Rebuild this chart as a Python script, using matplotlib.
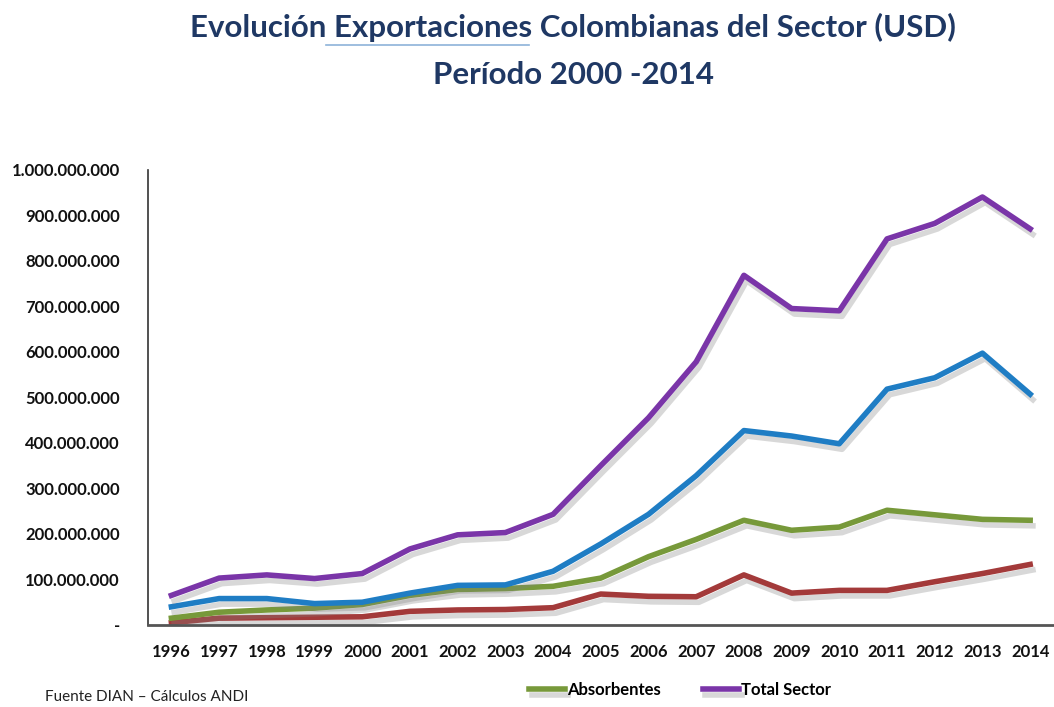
import numpy as np
import matplotlib.pyplot as plt
import matplotlib.patheffects as pe
from matplotlib.ticker import FuncFormatter

plt.rcParams['font.family'] = ['Lato', 'DejaVu Sans']

anios = list(range(1996, 2015))

# valores en USD
total_sector = [65e6, 103e6, 110e6, 102e6, 113e6, 167e6, 198e6, 203e6, 243e6, 350e6,
                455e6, 578e6, 768e6, 695e6, 690e6, 848e6, 882e6, 940e6, 870e6]
serie_azul = [40e6, 58e6, 58e6, 47e6, 50e6, 70e6, 87e6, 88e6, 118e6, 178e6,
              243e6, 328e6, 427e6, 415e6, 398e6, 518e6, 543e6, 597e6, 507e6]
absorbentes = [15e6, 28e6, 33e6, 37e6, 45e6, 65e6, 78e6, 80e6, 85e6, 103e6,
               150e6, 188e6, 230e6, 208e6, 215e6, 252e6, 242e6, 232e6, 230e6]
serie_roja = [5e6, 15e6, 16e6, 17e6, 18e6, 30e6, 33e6, 34e6, 38e6, 68e6,
              63e6, 62e6, 110e6, 70e6, 76e6, 76e6, 95e6, 113e6, 133e6]

fig = plt.figure(figsize=(10.54, 7.07), dpi=100)
ax = fig.add_axes([0.140, 0.116, 0.860, 0.644])

sombra = [pe.SimpleLineShadow(offset=(2, -4), shadow_color='gray', alpha=0.3), pe.Normal()]

ax.plot(anios, serie_roja, color='#A33A3A', lw=4, path_effects=sombra)
ax.plot(anios, absorbentes, color='#77993A', lw=4, path_effects=sombra, label='Absorbentes')
ax.plot(anios, serie_azul, color='#1F7DC4', lw=4, path_effects=sombra)
ax.plot(anios, total_sector, color='#7A35A8', lw=4, path_effects=sombra, label='Total Sector')

ax.set_xlim(1995.5, 2014.5)
ax.set_ylim(0, 1e9)
ax.set_xticks(anios)
ax.set_yticks(np.arange(0, 1.01e9, 1e8))


def formato(v, pos):
    if v == 0:
        return '-'
    return f'{int(round(v)):,}'.replace(',', '.')


ax.yaxis.set_major_formatter(FuncFormatter(formato))
ax.tick_params(axis='both', length=0, labelsize=12, colors='#111111')
ax.tick_params(axis='x', pad=14)
ax.tick_params(axis='y', pad=20)
for t in ax.get_xticklabels() + ax.get_yticklabels():
    t.set_fontweight('bold')

for s in ['top', 'right']:
    ax.spines[s].set_visible(False)
ax.spines['left'].set_color('#333333')
ax.spines['bottom'].set_color('#555555')
ax.spines['bottom'].set_linewidth(2)
ax.spines['left'].set_linewidth(1.2)

# titulo
fig.text(0.544, 0.961, 'Evolución Exportaciones Colombianas del Sector (USD)', ha='center', va='center',
         fontsize=22.5, fontweight='bold', color='#1F3864')
fig.text(0.544, 0.894, 'Período 2000 -2014', ha='center', va='center',
         fontsize=22.5, fontweight='bold', color='#1F3864')
fig.add_artist(plt.Line2D([0.309, 0.502], [0.936, 0.936], color='#8DB3D9', lw=1.2))

# en la leyenda solo aparecen dos series
h, l = ax.get_legend_handles_labels()
leg = fig.legend(h, l, loc='center', bbox_to_anchor=(0.645, 0.024), ncol=2, frameon=False,
                 fontsize=12, handlelength=2.2, handletextpad=0.1, columnspacing=2.5)
for t in leg.get_texts():
    t.set_fontweight('bold')

fig.text(0.043, 0.008, 'Fuente DIAN – Cálculos ANDI', fontsize=11, color='#222222')

fig.savefig('out.png', dpi=100)
